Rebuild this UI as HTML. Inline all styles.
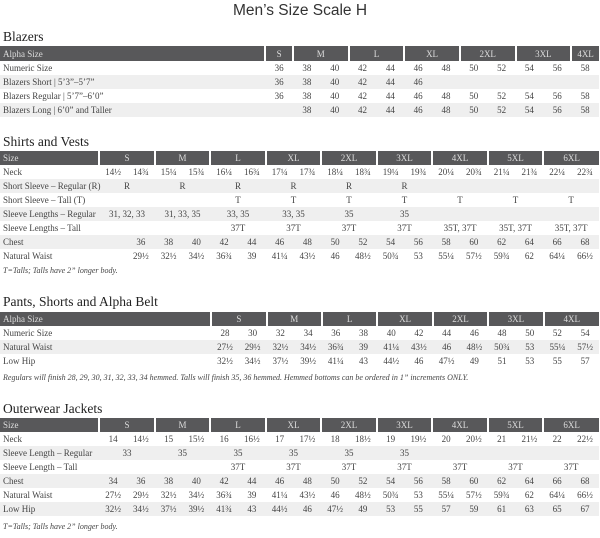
<!DOCTYPE html>
<html><head><meta charset="utf-8"><style>
body{margin:0;width:600px;height:538px;background:#fff;position:relative;overflow:hidden;font-family:"Liberation Serif",serif;color:#444}
.t{position:absolute;left:0;top:2px;width:600px;text-align:center;font-family:"Liberation Sans",sans-serif;font-size:15.5px;color:#333}
h2{position:absolute;left:3px;margin:0;font-weight:normal;font-size:13.5px;color:#222;line-height:16px}
table{position:absolute;left:0;width:599px;table-layout:fixed;border-collapse:collapse;font-size:9px}
td{height:14px;padding:0;text-align:center;white-space:nowrap;line-height:14px}
td.l{text-align:left;padding-left:3px}
tr.h td{background:#58585a;color:#ddd;border-left:2px solid #fff}
tr.h td.l{border-left:0}
tr.s td{background:#efefef}
.n{position:absolute;left:3px;font-style:italic;font-size:8px;color:#444}
</style></head><body>
<div class="t">Men’s Size Scale H</div>

<h2 style="top:29px">Blazers</h2>
<table style="top:46px">
<colgroup><col style="width:265px"><col span="12" style="width:27.8px"></colgroup>
<tr class="h" style="height:15px"><td class="l">Alpha Size</td><td>S</td><td colspan="2">M</td><td colspan="2">L</td><td colspan="2">XL</td><td colspan="2">2XL</td><td colspan="2">3XL</td><td>4XL</td></tr>
<tr><td class="l">Numeric Size</td><td>36</td><td>38</td><td>40</td><td>42</td><td>44</td><td>46</td><td>48</td><td>50</td><td>52</td><td>54</td><td>56</td><td>58</td></tr>
<tr class="s"><td class="l">Blazers Short | 5’3”–5’7”</td><td>36</td><td>38</td><td>40</td><td>42</td><td>44</td><td>46</td><td></td><td></td><td></td><td></td><td></td><td></td></tr>
<tr><td class="l">Blazers Regular | 5’7”–6’0”</td><td>36</td><td>38</td><td>40</td><td>42</td><td>44</td><td>46</td><td>48</td><td>50</td><td>52</td><td>54</td><td>56</td><td>58</td></tr>
<tr class="s"><td class="l">Blazers Long | 6’0” and Taller</td><td></td><td>38</td><td>40</td><td>42</td><td>44</td><td>46</td><td>48</td><td>50</td><td>52</td><td>54</td><td>56</td><td>58</td></tr>
</table>

<h2 style="top:134px">Shirts and Vests</h2>
<table style="top:151px">
<colgroup><col style="width:99px"><col span="18" style="width:27.7px"></colgroup>
<tr class="h"><td class="l">Size</td><td colspan="2">S</td><td colspan="2">M</td><td colspan="2">L</td><td colspan="2">XL</td><td colspan="2">2XL</td><td colspan="2">3XL</td><td colspan="2">4XL</td><td colspan="2">5XL</td><td colspan="2">6XL</td></tr>
<tr><td class="l">Neck</td><td>14½</td><td>14¾</td><td>15¼</td><td>15¾</td><td>16¼</td><td>16¾</td><td>17¼</td><td>17¾</td><td>18¼</td><td>18¾</td><td>19¼</td><td>19¾</td><td>20¼</td><td>20¾</td><td>21¼</td><td>21¾</td><td>22¼</td><td>22¾</td></tr>
<tr class="s"><td class="l">Short Sleeve – Regular (R)</td><td colspan="2">R</td><td colspan="2">R</td><td colspan="2">R</td><td colspan="2">R</td><td colspan="2">R</td><td colspan="2">R</td><td colspan="2"></td><td colspan="2"></td><td colspan="2"></td></tr>
<tr><td class="l">Short Sleeve – Tall (T)</td><td colspan="2"></td><td colspan="2"></td><td colspan="2">T</td><td colspan="2">T</td><td colspan="2">T</td><td colspan="2">T</td><td colspan="2">T</td><td colspan="2">T</td><td colspan="2">T</td></tr>
<tr class="s"><td class="l">Sleeve Lengths – Regular</td><td colspan="2">31, 32, 33</td><td colspan="2">31, 33, 35</td><td colspan="2">33, 35</td><td colspan="2">33, 35</td><td colspan="2">35</td><td colspan="2">35</td><td colspan="2"></td><td colspan="2"></td><td colspan="2"></td></tr>
<tr><td class="l">Sleeve Lengths – Tall</td><td colspan="2"></td><td colspan="2"></td><td colspan="2">37T</td><td colspan="2">37T</td><td colspan="2">37T</td><td colspan="2">37T</td><td colspan="2">35T, 37T</td><td colspan="2">35T, 37T</td><td colspan="2">35T, 37T</td></tr>
<tr class="s"><td class="l">Chest</td><td></td><td>36</td><td>38</td><td>40</td><td>42</td><td>44</td><td>46</td><td>48</td><td>50</td><td>52</td><td>54</td><td>56</td><td>58</td><td>60</td><td>62</td><td>64</td><td>66</td><td>68</td></tr>
<tr><td class="l">Natural Waist</td><td></td><td>29½</td><td>32½</td><td>34½</td><td>36¾</td><td>39</td><td>41¼</td><td>43½</td><td>46</td><td>48½</td><td>50¾</td><td>53</td><td>55¼</td><td>57½</td><td>59¾</td><td>62</td><td>64¼</td><td>66½</td></tr>
</table>
<div class="n" style="top:266px">T=Talls; Talls have 2” longer body.</div>

<h2 style="top:294px">Pants, Shorts and Alpha Belt</h2>
<table style="top:312px">
<colgroup><col style="width:211px"><col span="14" style="width:27.7px"></colgroup>
<tr class="h"><td class="l">Alpha Size</td><td colspan="2">S</td><td colspan="2">M</td><td colspan="2">L</td><td colspan="2">XL</td><td colspan="2">2XL</td><td colspan="2">3XL</td><td colspan="2">4XL</td></tr>
<tr><td class="l">Numeric Size</td><td>28</td><td>30</td><td>32</td><td>34</td><td>36</td><td>38</td><td>40</td><td>42</td><td>44</td><td>46</td><td>48</td><td>50</td><td>52</td><td>54</td></tr>
<tr class="s"><td class="l">Natural Waist</td><td>27½</td><td>29½</td><td>32½</td><td>34½</td><td>36¾</td><td>39</td><td>41¼</td><td>43½</td><td>46</td><td>48½</td><td>50¾</td><td>53</td><td>55¼</td><td>57½</td></tr>
<tr><td class="l">Low Hip</td><td>32½</td><td>34½</td><td>37½</td><td>39½</td><td>41¼</td><td>43</td><td>44½</td><td>46</td><td>47½</td><td>49</td><td>51</td><td>53</td><td>55</td><td>57</td></tr>
</table>
<div class="n" style="top:373px">Regulars will finish 28, 29, 30, 31, 32, 33, 34 hemmed. Talls will finish 35, 36 hemmed. Hemmed bottoms can be ordered in 1” increments ONLY.</div>

<h2 style="top:401px">Outerwear Jackets</h2>
<table style="top:418px">
<colgroup><col style="width:99px"><col span="18" style="width:27.7px"></colgroup>
<tr class="h"><td class="l">Size</td><td colspan="2">S</td><td colspan="2">M</td><td colspan="2">L</td><td colspan="2">XL</td><td colspan="2">2XL</td><td colspan="2">3XL</td><td colspan="2">4XL</td><td colspan="2">5XL</td><td colspan="2">6XL</td></tr>
<tr><td class="l">Neck</td><td>14</td><td>14½</td><td>15</td><td>15½</td><td>16</td><td>16½</td><td>17</td><td>17½</td><td>18</td><td>18½</td><td>19</td><td>19½</td><td>20</td><td>20½</td><td>21</td><td>21½</td><td>22</td><td>22½</td></tr>
<tr class="s"><td class="l">Sleeve Length – Regular</td><td colspan="2">33</td><td colspan="2">35</td><td colspan="2">35</td><td colspan="2">35</td><td colspan="2">35</td><td colspan="2">35</td><td colspan="2"></td><td colspan="2"></td><td colspan="2"></td></tr>
<tr><td class="l">Sleeve Length – Tall</td><td colspan="2"></td><td colspan="2"></td><td colspan="2">37T</td><td colspan="2">37T</td><td colspan="2">37T</td><td colspan="2">37T</td><td colspan="2">37T</td><td colspan="2">37T</td><td colspan="2">37T</td></tr>
<tr class="s"><td class="l">Chest</td><td>34</td><td>36</td><td>38</td><td>40</td><td>42</td><td>44</td><td>46</td><td>48</td><td>50</td><td>52</td><td>54</td><td>56</td><td>58</td><td>60</td><td>62</td><td>64</td><td>66</td><td>68</td></tr>
<tr><td class="l">Natural Waist</td><td>27½</td><td>29½</td><td>32½</td><td>34½</td><td>36¾</td><td>39</td><td>41¼</td><td>43½</td><td>46</td><td>48½</td><td>50¾</td><td>53</td><td>55¼</td><td>57½</td><td>59¾</td><td>62</td><td>64¼</td><td>66½</td></tr>
<tr class="s"><td class="l">Low Hip</td><td>32½</td><td>34½</td><td>37½</td><td>39½</td><td>41¾</td><td>43</td><td>44½</td><td>46</td><td>47½</td><td>49</td><td>53</td><td>55</td><td>57</td><td>59</td><td>61</td><td>63</td><td>65</td><td>67</td></tr>
</table>
<div class="n" style="top:522px">T=Talls; Talls have 2” longer body.</div>
</body></html>
